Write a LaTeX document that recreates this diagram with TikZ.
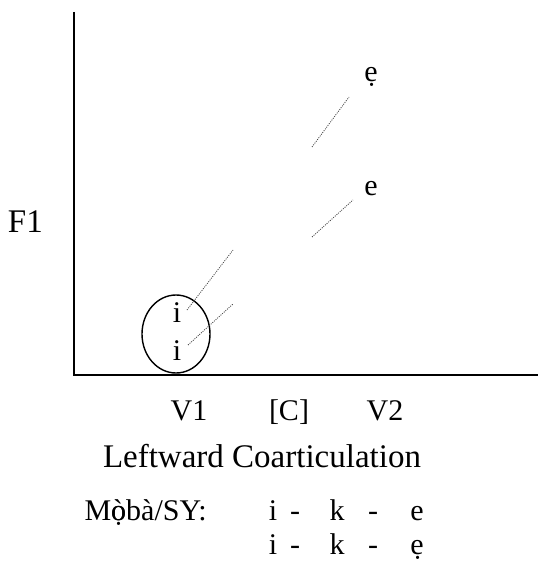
\documentclass[tikz,border=0pt]{standalone}
\usepackage{fontspec}
\setmainfont{Liberation Serif}
\usetikzlibrary{shapes.geometric}
\begin{document}
\begin{tikzpicture}[x=1pt,y=-1pt,
  lbl/.style={font=\fontsize{30}{34}\selectfont, inner sep=0pt, anchor=base},
  big/.style={font=\fontsize{33}{38}\selectfont},
  axis/.style={line width=1.6pt},
  dots/.style={line width=0.8pt, dash pattern=on 1pt off 1.2pt, black!75}]
\useasboundingbox (0,0) rectangle (538,564);
\coordinate (o) at (74,375);
\coordinate (ytop) at (74,12);
\coordinate (xend) at (538,375);
\draw[axis] (ytop) -- (o) -- (xend);
\node[lbl, big, anchor=base east] (f1) at (43,232) {F1};
\node[draw, line width=1.4pt, ellipse, minimum width=68pt, minimum height=78pt, inner sep=0pt] (circ) at (176,334) {};
\node[lbl] (i1) at (177,322) {i};
\node[lbl] (i2) at (177,360) {i};
\node[lbl] (e2) at (371,82) {ẹ};
\node[lbl] (e1) at (371,195) {e};
\coordinate (a1) at (187,310); \coordinate (b1) at (233,250);
\coordinate (a2) at (188,345); \coordinate (b2) at (233,304);
\coordinate (a3) at (312,147); \coordinate (b3) at (349,97);
\coordinate (a4) at (312,237); \coordinate (b4) at (353,200);
\draw[dots] (a1) -- (b1);
\draw[dots] (a2) -- (b2);
\draw[dots] (a3) -- (b3);
\draw[dots] (a4) -- (b4);
\node[lbl] (v1) at (189,420) {V1};
\node[lbl] (c) at (289,420) {[C]};
\node[lbl] (v2) at (385,420) {V2};
\node[lbl, big] (title) at (262,467) {Leftward Coarticulation};
\node[lbl, anchor=base east] (moba) at (207,520) {M\rlap{ò}ọbà/SY:};
\node[lbl] (r1a) at (273,520) {i};
\node[lbl] (r1b) at (295,520) {-};
\node[lbl] (r1c) at (337,520) {k};
\node[lbl] (r1d) at (373,520) {-};
\node[lbl] (r1e) at (417,520) {e};
\node[lbl] (r2a) at (273,554) {i};
\node[lbl] (r2b) at (295,554) {-};
\node[lbl] (r2c) at (337,554) {k};
\node[lbl] (r2d) at (373,554) {-};
\node[lbl] (r2e) at (417,554) {ẹ};
\end{tikzpicture}
\end{document}
